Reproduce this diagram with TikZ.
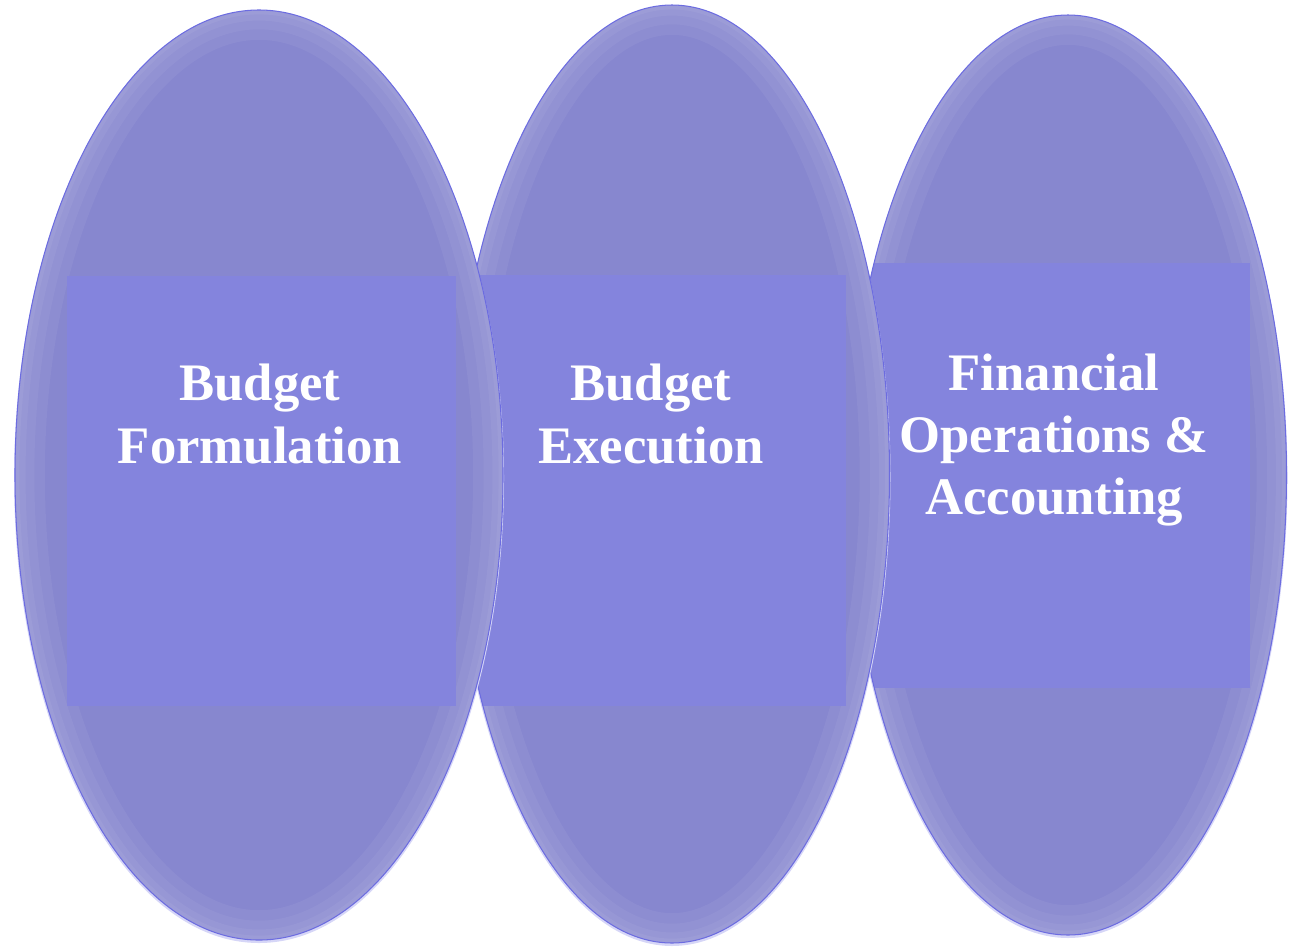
\documentclass[tikz,border=0pt]{standalone}
\usepackage{fontspec}
\setmainfont{Liberation Serif}
\usepackage{tikz}
\usetikzlibrary{shapes}

\definecolor{ovalfill}{HTML}{8787CF}
\definecolor{ovalline}{HTML}{6C6CE0}
\definecolor{panelfill}{HTML}{8484DD}
\definecolor{halo}{HTML}{D6D6F7}

\begin{document}
\begin{tikzpicture}[x=0.02cm,y=-0.02cm,font=\bfseries\fontsize{30}{35.5}\selectfont]
\tikzstyle{oval}=[ellipse,fill=ovalfill,inner sep=0pt]
\tikzstyle{rim}=[draw=white,opacity=0.05,line width=34pt]
\tikzstyle{edge}=[draw=ovalline,line width=0.6pt]
\tikzstyle{panel}=[rectangle,fill=panelfill,inner sep=0pt]
\tikzstyle{stagetext}=[text=white,align=center,inner sep=0pt]
\useasboundingbox (0,0) rectangle (1291,947);
% back to front: accounting, execution, formulation
\fill[halo] (1068,478) ellipse [x radius=219.5, y radius=460];
\node[oval,minimum width=8.74cm,minimum height=18.4cm] (E3) at (1068,475) {};
\begin{scope}
\clip (E3.center) ellipse [x radius=218.5, y radius=460];
\draw[rim] (E3.center) ellipse [x radius=218.5, y radius=460];
\draw[rim,line width=22pt] (E3.center) ellipse [x radius=218.5, y radius=460];
\draw[rim,line width=12pt] (E3.center) ellipse [x radius=218.5, y radius=460];
\draw[rim,line width=5pt] (E3.center) ellipse [x radius=218.5, y radius=460];
\node[panel,minimum width=7.76cm,minimum height=8.5cm] (R3) at (1056,475.5) {};
\end{scope}
\draw[edge] (E3.center) ellipse [x radius=218.5, y radius=460];

\fill[halo] (672,477) ellipse [x radius=218.5, y radius=469];
\node[oval,minimum width=8.7cm,minimum height=18.76cm] (E2) at (672,474) {};
\begin{scope}
\clip (E2.center) ellipse [x radius=217.5, y radius=469];
\draw[rim] (E2.center) ellipse [x radius=217.5, y radius=469];
\draw[rim,line width=22pt] (E2.center) ellipse [x radius=217.5, y radius=469];
\draw[rim,line width=12pt] (E2.center) ellipse [x radius=217.5, y radius=469];
\draw[rim,line width=5pt] (E2.center) ellipse [x radius=217.5, y radius=469];
\node[panel,minimum width=7.52cm,minimum height=8.62cm] (R2) at (658,490.5) {};
\end{scope}
\draw[edge] (E2.center) ellipse [x radius=217.5, y radius=469];

\fill[halo] (259,478) ellipse [x radius=245, y radius=465];
\node[oval,minimum width=9.76cm,minimum height=18.6cm] (E1) at (259,475) {};
\begin{scope}
\clip (E1.center) ellipse [x radius=244, y radius=465];
\draw[rim] (E1.center) ellipse [x radius=244, y radius=465];
\draw[rim,line width=22pt] (E1.center) ellipse [x radius=244, y radius=465];
\draw[rim,line width=12pt] (E1.center) ellipse [x radius=244, y radius=465];
\draw[rim,line width=5pt] (E1.center) ellipse [x radius=244, y radius=465];
\node[panel,minimum width=7.78cm,minimum height=8.6cm] (R1) at (261.5,491) {};
\end{scope}
\draw[edge] (E1.center) ellipse [x radius=244, y radius=465];

% texts
\node[stagetext] (T1) at (260,414) {Budget\\Formulation};
\node[stagetext] (T2) at (651,414) {Budget\\Execution};
\node[stagetext] (T3) at (1054,440) {Financial\\Operations \&\\Accounting};
\end{tikzpicture}
\end{document}
